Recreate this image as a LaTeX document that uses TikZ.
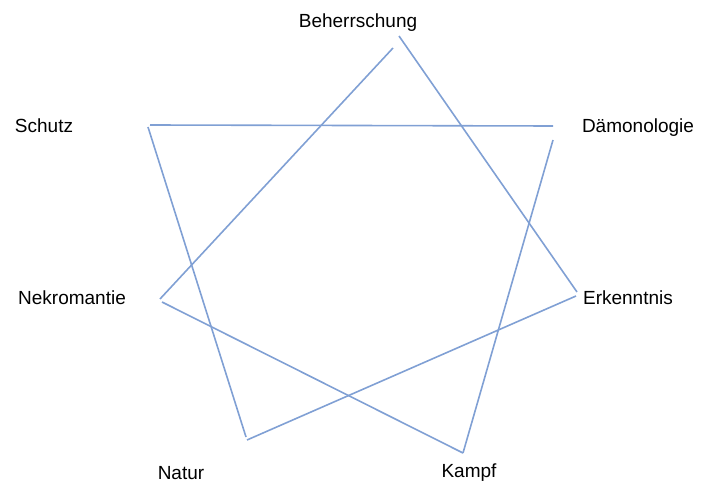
\documentclass[tikz,border=0pt]{standalone}
\usepackage{fontspec}
\setmainfont{Liberation Sans}
\definecolor{starblue}{RGB}{128,160,212}
\begin{document}
\begin{tikzpicture}[x=1pt,y=-1pt,
  lbl/.style={anchor=base,inner sep=0pt,font=\fontsize{19}{22}\selectfont},
  edge/.style={draw=starblue,line width=1.6pt}]
\useasboundingbox (0,0) rectangle (713,484);
\node[lbl] (beh) at (358,28) {Beherrschung};
\node[lbl] (dae) at (638,133) {Dämonologie};
\node[lbl] (sch) at (44,133) {Schutz};
\node[lbl] (nek) at (72,305) {Nekromantie};
\node[lbl] (erk) at (628,305) {Erkenntnis};
\node[lbl] (nat) at (181,479) {Natur};
\node[lbl] (kam) at (469,477) {Kampf};
\coordinate (B1) at (399,36);
\coordinate (B2) at (393,48);
\coordinate (E1) at (577,292);
\coordinate (E2) at (576,296);
\coordinate (N1) at (160,299);
\coordinate (N2) at (162,302);
\coordinate (D1) at (553,126);
\coordinate (D2) at (553,140);
\coordinate (S1) at (150,125);
\coordinate (S2) at (148,127);
\coordinate (K1) at (463,453);
\coordinate (T1) at (246,437);
\coordinate (T2) at (247,440);
\draw[edge] (B1) -- (E1);
\draw[edge] (B2) -- (N1);
\draw[edge] (S1) -- (D1);
\draw[edge] (D2) -- (K1);
\draw[edge] (S2) -- (T1);
\draw[edge] (N2) -- (K1);
\draw[edge] (E2) -- (T2);
\end{tikzpicture}
\end{document}
